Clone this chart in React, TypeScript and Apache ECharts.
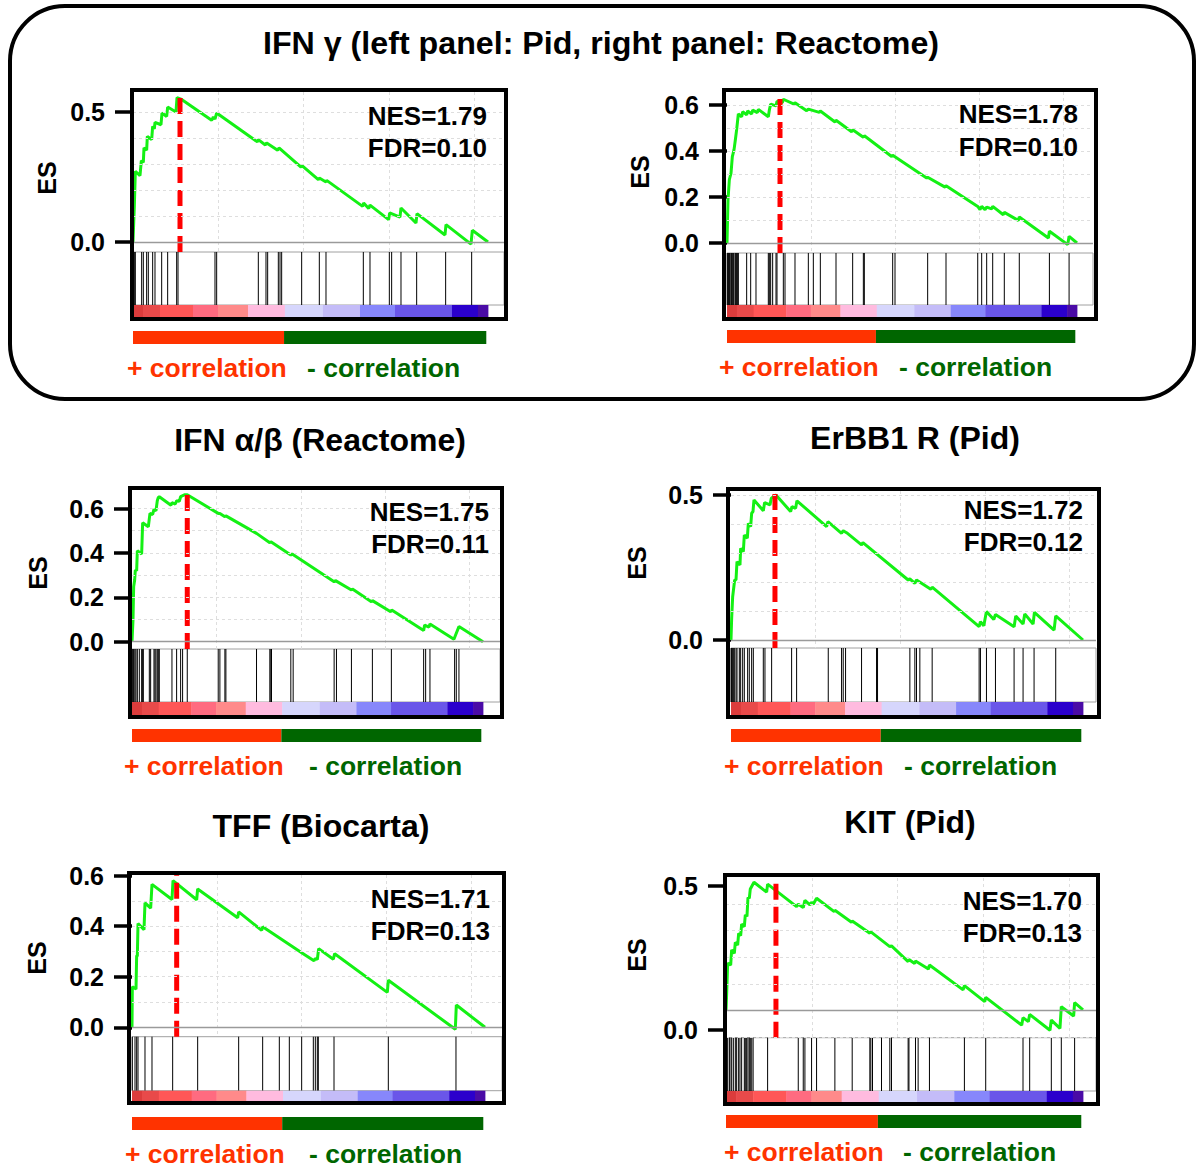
import React, { useEffect, useRef } from "react";
import * as echarts from "echarts";

const FONT = "'Liberation Sans', Arial, Helvetica, sans-serif";
const N = 20800; // ranked list length
const GRID_STEP = 5000;

const mainTitle = "IFN γ (left panel: Pid, right panel: Reactome)";
const panelTitles = ["", "", "IFN α/β (Reactome)", "ErBB1 R (Pid)", "TFF (Biocarta)", "KIT (Pid)"];
const nesValues = ["1.79", "1.78", "1.75", "1.72", "1.71", "1.70"];
const fdrValues = ["0.10", "0.10", "0.11", "0.12", "0.13", "0.13"];
const peakRanks = [2754, 3150, 3275, 2598, 2632, 2910];

// running enrichment score vertices [rank, ES]
const curve1 = [[0,0],[78,0.137],[137,0.272],[410,0.255],[488,0.313],[605,0.306],[644,0.362],[800,0.353],[840,0.406],[1094,0.394],[1152,0.445],[1250,0.435],[1289,0.46],[1640,0.451],[1699,0.496],[1972,0.483],[2031,0.519],[2519,0.5],[2578,0.555],[2850,0.548],[4609,0.468],[4707,0.481],[4804,0.473],[4902,0.496],[7285,0.385],[7343,0.394],[7753,0.373],[7832,0.381],[8476,0.353],[8554,0.362],[9843,0.288],[9902,0.294],[10859,0.24],[10917,0.246],[11308,0.231],[11347,0.237],[13456,0.137],[13515,0.15],[13808,0.129],[13886,0.142],[14979,0.086],[15038,0.112],[15643,0.096],[15702,0.131],[16581,0.073],[16640,0.109],[18280,0.027],[18339,0.067],[19804,-0.008],[19882,0.045],[20800,0]];
const curve2 = [[0,0],[59,0.188],[139,0.275],[238,0.304],[317,0.376],[416,0.405],[495,0.448],[575,0.494],[674,0.561],[872,0.549],[931,0.571],[1169,0.557],[1228,0.574],[1466,0.561],[1525,0.578],[1803,0.567],[1862,0.581],[2456,0.549],[2516,0.578],[2595,0.604],[2912,0.596],[2971,0.616],[3288,0.61],[3348,0.625],[3982,0.604],[4041,0.61],[4734,0.575],[4834,0.582],[5488,0.568],[5547,0.574],[6419,0.526],[6478,0.534],[7409,0.484],[7468,0.492],[8103,0.46],[8162,0.466],[9786,0.376],[9846,0.382],[11866,0.283],[11925,0.286],[12956,0.243],[13015,0.249],[14900,0.159],[15036,0.145],[15135,0.159],[15333,0.145],[15432,0.156],[15729,0.148],[15790,0.159],[16420,0.123],[16480,0.133],[17310,0.098],[17370,0.113],[19100,0.022],[19160,0.051],[20250,-0.007],[20330,0.029],[20800,0]];
const curve3 = [[0,0],[59,0.098],[99,0.248],[158,0.278],[197,0.323],[276,0.32],[316,0.41],[572,0.395],[631,0.536],[967,0.518],[1065,0.578],[1223,0.573],[1302,0.596],[1420,0.59],[1499,0.635],[1559,0.65],[1618,0.653],[2309,0.615],[2368,0.626],[2565,0.62],[2644,0.635],[2802,0.632],[2881,0.653],[3137,0.662],[3275,0.662],[5110,0.578],[5209,0.578],[5505,0.563],[5564,0.567],[7379,0.488],[8168,0.446],[8228,0.45],[9412,0.39],[9491,0.395],[11978,0.27],[12057,0.275],[13003,0.233],[13062,0.237],[14186,0.18],[14245,0.185],[15330,0.135],[15389,0.143],[17283,0.05],[17342,0.075],[17598,0.066],[17657,0.08],[19078,0.011],[19176,0.03],[19374,0.068],[20800,0]];
const curve4 = [[0,0],[39,0.075],[98,0.149],[216,0.207],[295,0.207],[354,0.27],[531,0.259],[571,0.316],[728,0.305],[787,0.362],[964,0.351],[1023,0.402],[1161,0.391],[1220,0.437],[1299,0.443],[1358,0.483],[1909,0.446],[1988,0.474],[2303,0.466],[2381,0.489],[2657,0.5],[3523,0.443],[3602,0.46],[3818,0.454],[3897,0.48],[5648,0.391],[5727,0.408],[6534,0.368],[6632,0.377],[6829,0.37],[7715,0.328],[7794,0.336],[10470,0.207],[10569,0.211],[10864,0.195],[10962,0.207],[11808,0.175],[11887,0.182],[14662,0.046],[14740,0.063],[14937,0.049],[15095,0.098],[15528,0.071],[15627,0.088],[16728,0.046],[16826,0.083],[17259,0.055],[17358,0.09],[17850,0.055],[17929,0.095],[19090,0.034],[19188,0.083],[20800,0]];
const curve5 = [[0,0],[20,0.16],[236,0.151],[275,0.285],[314,0.28],[354,0.41],[707,0.386],[766,0.492],[1100,0.471],[1178,0.565],[2357,0.505],[2416,0.58],[3810,0.504],[3869,0.547],[6226,0.433],[6285,0.456],[7640,0.383],[7699,0.397],[9997,0.295],[10723,0.263],[10802,0.272],[10920,0.268],[10998,0.311],[11863,0.269],[11941,0.291],[15044,0.138],[15103,0.186],[19051,-0.008],[19110,0.088],[20800,0]];
const curve6 = [[0,0],[39,0.065],[97,0.178],[272,0.171],[330,0.228],[485,0.215],[543,0.256],[679,0.246],[737,0.29],[854,0.281],[912,0.324],[1067,0.315],[1125,0.359],[1222,0.353],[1280,0.424],[1358,0.421],[1416,0.456],[1630,0.481],[2367,0.444],[2425,0.474],[4112,0.39],[4210,0.399],[4501,0.386],[4598,0.413],[4889,0.396],[4986,0.406],[5083,0.399],[5277,0.421],[6305,0.371],[6344,0.376],[7314,0.331],[7353,0.336],[8381,0.29],[8420,0.296],[9545,0.24],[9642,0.243],[10612,0.184],[10660,0.192],[10990,0.177],[11040,0.186],[11795,0.156],[11853,0.171],[13813,0.078],[13890,0.094],[15074,0.034],[15132,0.05],[17227,-0.054],[17305,-0.026],[17615,-0.041],[17693,-0.014],[18876,-0.073],[18954,-0.035],[19458,-0.066],[19536,0.015],[20254,-0.02],[20312,0.03],[20800,0.003]];

// gene set member positions (ranks)
const hits1 = [20,78,137,508,605,800,898,1152,1289,1680,2031,2558,2637,4804,4902,7343,7792,7890,8515,8613,8710,9882,10917,11308,13495,13886,15019,15155,15702,16620,18319,19843];
const hits2 = [20,59,99,139,178,238,277,317,376,416,495,535,575,634,674,1169,1407,1723,2456,2516,2595,2714,2912,2971,3348,3447,4041,4834,5131,5547,6478,7468,8103,8162,9846,9984,11925,13015,14900,15135,15432,15790,16480,17370,19160,20330];
const hits3 = [20,79,118,178,237,316,434,572,631,671,1026,1105,1302,1361,1420,1499,1559,1618,2368,2644,2881,2999,3275,5110,5209,5505,5564,7379,8168,8228,8267,9412,9550,11978,12116,13003,14245,15370,17283,17401,17657,19118,19217,19375];
const hits4 = [10,39,79,138,197,295,354,492,571,689,787,984,1082,1220,1319,1909,2007,2401,3582,3877,5747,6534,6632,6770,7715,8600,8659,10569,10864,10962,11159,11887,14662,14740,15095,15627,16728,17259,17909,19188];
const hits5 = [20,177,275,354,766,1178,2396,3869,6285,7699,8681,9270,9997,10684,10802,10920,10979,11903,15103,19090];
const hits6 = [20,39,97,194,233,330,427,543,621,737,815,912,1067,1125,1203,1280,1358,1416,1500,1580,2425,4210,4501,4598,4986,5277,6344,7353,8381,8439,8536,9060,9545,9642,10612,10660,11040,11194,11853,13890,15132,17305,17693,18954,19536,20312];

// y tick positions and their labels
const ticks1 = [0, 0.5]; const tickText1 = ["0.0", "0.5"];
const ticks2 = [0, 0.2, 0.4, 0.6]; const tickText2 = ["0.0", "0.2", "0.4", "0.6"];
const ticks3 = [0, 0.2, 0.4, 0.6]; const tickText3 = ["0.0", "0.2", "0.4", "0.6"];
const ticks4 = [0, 0.5]; const tickText4 = ["0.0", "0.5"];
const ticks5 = [0, 0.2, 0.4, 0.6]; const tickText5 = ["0.0", "0.2", "0.4", "0.6"];
const ticks6 = [-0.072, 0.468]; const tickText6 = ["0.0", "0.5"];

// ranked-list metric colour bar (segment start ranks)
const barStarts = [0, 586, 1582, 3516, 4980, 6740, 8900, 11130, 13300, 15350, 18690, 20210];
const barColors = ["#dc3c3c", "#e84a4a", "#ff5757", "#ff6b80", "#ff8a8a", "#ffbbdf", "#d6d6fc", "#c4bcf8", "#8787fb", "#6a56e9", "#2b00cc", "#4a0ba6"];
// correlation split bar
const corrSplit = 8850;
const corrEnd = 20700;

const curves = [curve1, curve2, curve3, curve4, curve5, curve6];
const hitsAll = [hits1, hits2, hits3, hits4, hits5, hits6];
const ticksAll = [ticks1, ticks2, ticks3, ticks4, ticks5, ticks6];
const tickTextAll = [tickText1, tickText2, tickText3, tickText4, tickText5, tickText6];

// layout (pixels)
const layouts = [
  { frame: [130, 88, 508, 321], x0: 133, cbEnd: 488, xr: 504, esTop: 92, zero: 242, px01: 26, sep: 252, cbTop: 305, cbBot: 317, corrTop: 331, textY: 368, plusX: 127, minusX: 307, esLab: [47, 178], nesR: 487, nesY: 116, fdrY: 148, title: [0, 0] },
  { frame: [722, 88, 1098, 321], x0: 727, cbEnd: 1077, xr: 1093, esTop: 92, zero: 243, px01: 23, sep: 253, cbTop: 305, cbBot: 317, corrTop: 330, textY: 367, plusX: 719, minusX: 899, esLab: [640, 172], nesR: 1078, nesY: 114, fdrY: 147, title: [0, 0] },
  { frame: [128, 486, 504, 719], x0: 132, cbEnd: 483, xr: 500, esTop: 490, zero: 641.7, px01: 22.2, sep: 649, cbTop: 702, cbBot: 715, corrTop: 729, textY: 766, plusX: 124, minusX: 309, esLab: [38, 573], nesR: 489, nesY: 512, fdrY: 544, title: [320, 440] },
  { frame: [726, 487, 1101, 719], x0: 731, cbEnd: 1083, xr: 1096, esTop: 491, zero: 640, px01: 29, sep: 648, cbTop: 702, cbBot: 715, corrTop: 729, textY: 766, plusX: 724, minusX: 904, esLab: [637, 563], nesR: 1083, nesY: 510, fdrY: 542, title: [915, 438] },
  { frame: [127, 871, 506, 1105], x0: 132, cbEnd: 485, xr: 502, esTop: 875, zero: 1027.3, px01: 25.3, sep: 1036.7, cbTop: 1090.7, cbBot: 1101, corrTop: 1117, textY: 1154, plusX: 125, minusX: 309, esLab: [37, 958], nesR: 490, nesY: 899, fdrY: 931, title: [321, 826] },
  { frame: [723, 873, 1100, 1106], x0: 726, cbEnd: 1083, xr: 1096, esTop: 878, zero: 1010.7, px01: 26.7, sep: 1037.7, cbTop: 1091, cbBot: 1102, corrTop: 1115, textY: 1152, plusX: 724, minusX: 903, esLab: [637, 955], nesR: 1082, nesY: 901, fdrY: 933, title: [910, 822] },
];

function txt(x: number, y: number, text: string, size: number, fill: string, align: string, extra: any = {}) {
  return {
    type: "text", x, y, z: 110, silent: true, ...extra,
    style: { text, font: `bold ${size}px ${FONT}`, fill, align, verticalAlign: "middle", textAlign: align, textVerticalAlign: "middle" },
  };
}

function buildOption() {
  const grid: any[] = [], xAxis: any[] = [], yAxis: any[] = [], series: any[] = [], graphic: any[] = [];

  graphic.push({ type: "rect", z: 100, silent: true, shape: { x: 10, y: 6, width: 1184, height: 393, r: 55 }, style: { fill: "none", stroke: "#000", lineWidth: 4 } });
  graphic.push(txt(601, 43, mainTitle, 32.2, "#000", "center"));

  layouts.forEach((L, i) => {
    const yMax = (L.zero - L.esTop) / (L.px01 * 10);
    const yMin = -(L.sep - L.zero) / (L.px01 * 10);
    const width = L.xr - L.x0;
    const xMax = (N * width) / (L.cbEnd - L.x0);
    const g = grid.length;
    grid.push({ left: L.x0, top: L.esTop, width, height: L.sep - L.esTop });
    grid.push({ left: L.x0, top: L.sep, width, height: L.cbTop - L.sep, show: true, borderColor: "#a0a0a0", borderWidth: 1, backgroundColor: "transparent" });
    grid.push({ left: L.x0, top: L.cbTop, width, height: L.cbBot - L.cbTop });
    grid.push({ left: L.x0, top: L.corrTop, width, height: 13 });

    for (let k = 0; k < 4; k++) {
      if (k === 0) {
        xAxis.push({
          type: "value", gridIndex: g, min: 0, max: xMax, interval: GRID_STEP,
          axisLine: { show: false }, axisTick: { show: false }, axisLabel: { show: false },
          splitLine: { show: true, showMinLine: false, showMaxLine: false, lineStyle: { type: [3, 3], color: "#dedede", width: 1 } },
        });
        const tv = ticksAll[i], tt = tickTextAll[i];
        yAxis.push({
          type: "value", gridIndex: g, min: yMin, max: yMax,
          axisLine: { show: false },
          axisTick: { show: true, customValues: tv, length: 18, lineStyle: { color: "#000", width: 3.5 } },
          axisLabel: {
            show: true, customValues: tv, margin: 28, fontSize: 25, fontWeight: "bold", color: "#000", fontFamily: FONT,
            formatter: (v: number) => { const j = tv.findIndex((t) => Math.abs(t - v) < 1e-6); return j >= 0 ? tt[j] : ""; },
          },
          splitLine: { show: false },
        });
      } else {
        xAxis.push({ type: "value", gridIndex: g + k, min: 0, max: xMax, show: false });
        yAxis.push({ type: "value", gridIndex: g + k, min: 0, max: 1, show: false });
      }
    }

    // horizontal gridlines + zero line
    const gl: any[] = [];
    for (let v = -0.1; v <= yMax + 1e-9; v += 0.1) {
      const r = Math.round(v * 10) / 10;
      if (Math.abs(r) < 1e-9 || r < yMin || r > yMax - 0.005) continue;
      gl.push({ yAxis: r, lineStyle: { type: [3, 3], color: "#dedede", width: 1 } });
    }
    gl.push({ yAxis: 0, lineStyle: { type: "solid", color: "#9a9a9a", width: 1.3 } });
    series.push({
      type: "line", xAxisIndex: g, yAxisIndex: g, data: [[0, 0]], symbol: "none", z: 1, silent: true,
      lineStyle: { opacity: 0 },
      markLine: { silent: true, symbol: "none", label: { show: false }, animation: false, data: gl },
    });
    series.push({
      type: "line", xAxisIndex: g, yAxisIndex: g, data: curves[i], symbol: "none", showSymbol: false, z: 3, silent: true,
      lineStyle: { color: "#14f014", width: 3 },
    });
    series.push({
      type: "line", xAxisIndex: g, yAxisIndex: g, data: [[peakRanks[i], yMin], [peakRanks[i], yMax]], symbol: "none", z: 4, silent: true,
      lineStyle: { color: "#ff0000", width: 5, type: [16, 7], cap: "butt" },
    });
    series.push({
      type: "custom", xAxisIndex: g + 1, yAxisIndex: g + 1, silent: true, z: 3,
      data: hitsAll[i].map((h) => [h, 1]), encode: { x: 0, y: 1 },
      renderItem: (_p: any, api: any) => {
        const a = api.coord([api.value(0), 0]);
        const b = api.coord([api.value(0), 1]);
        return { type: "line", shape: { x1: a[0], y1: a[1], x2: b[0], y2: b[1] }, style: { stroke: "#000", lineWidth: 1 } };
      },
    });
    series.push({
      type: "custom", xAxisIndex: g + 2, yAxisIndex: g + 2, silent: true, z: 3,
      data: barStarts.map((s, k) => [s, k < barStarts.length - 1 ? barStarts[k + 1] : N, k]), encode: { x: [0, 1] },
      renderItem: (_p: any, api: any) => {
        const a = api.coord([api.value(0), 1]);
        const b = api.coord([api.value(1), 0]);
        return { type: "rect", shape: { x: a[0], y: a[1], width: b[0] - a[0] + 0.4, height: b[1] - a[1] }, style: { fill: barColors[api.value(2)] } };
      },
    });
    const corrColors = ["#ff3300", "#006600"];
    series.push({
      type: "custom", xAxisIndex: g + 3, yAxisIndex: g + 3, silent: true, z: 3,
      data: [[0, corrSplit, 0], [corrSplit, corrEnd, 1]], encode: { x: [0, 1] },
      renderItem: (_p: any, api: any) => {
        const a = api.coord([api.value(0), 1]);
        const b = api.coord([api.value(1), 0]);
        return { type: "rect", shape: { x: a[0], y: a[1], width: b[0] - a[0], height: b[1] - a[1] }, style: { fill: corrColors[api.value(2)] } };
      },
    });

    const f = L.frame;
    graphic.push({ type: "rect", z: 100, silent: true, shape: { x: f[0] + 2, y: f[1] + 2, width: f[2] - f[0] - 4, height: f[3] - f[1] - 4 }, style: { fill: "none", stroke: "#000", lineWidth: 4 } });
    graphic.push(txt(L.nesR, L.nesY, `NES=${nesValues[i]}`, 26, "#000", "right"));
    graphic.push(txt(L.nesR, L.fdrY, `FDR=${fdrValues[i]}`, 26, "#000", "right"));
    graphic.push(txt(L.esLab[0], L.esLab[1], "ES", 25, "#000", "center", { rotation: Math.PI / 2 }));
    graphic.push(txt(L.plusX, L.textY, "+ correlation", 26.5, "#ff3300", "left"));
    graphic.push(txt(L.minusX, L.textY, "- correlation", 26.5, "#006600", "left"));
    if (panelTitles[i]) graphic.push(txt(L.title[0], L.title[1], panelTitles[i], 32, "#000", "center"));
  });

  return { animation: false, backgroundColor: "#ffffff", grid, xAxis, yAxis, series, graphic };
}

export default function App() {
  const ref = useRef<HTMLDivElement>(null);
  useEffect(() => {
    if (!ref.current) return;
    const chart = echarts.init(ref.current, undefined, { renderer: "svg" });
    chart.setOption(buildOption() as any);
    return () => chart.dispose();
  }, []);
  return <div ref={ref} style={{ position: "absolute", left: 0, top: 0, width: 1203, height: 1168 }} />;
}
